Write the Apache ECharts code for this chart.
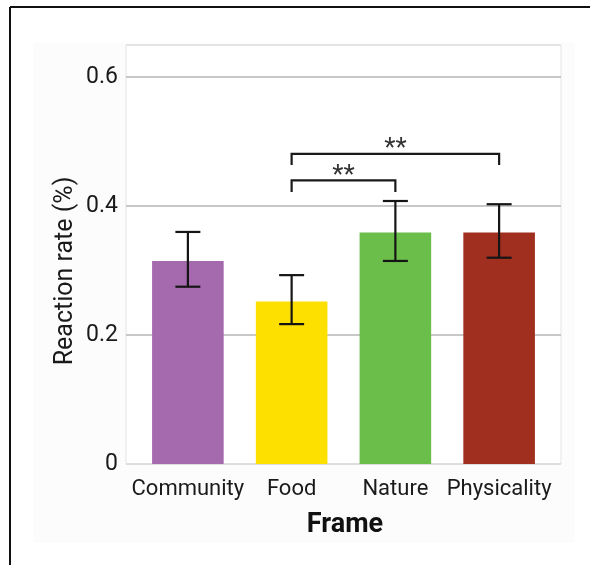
<!DOCTYPE html>
<html>
<head>
<meta charset="utf-8">
<script src="https://cdn.jsdelivr.net/npm/echarts@6/dist/echarts.min.js"></script>
<style>
  html, body { margin: 0; padding: 0; background: #ffffff; }
  #chart { width: 590px; height: 565px; }
</style>
</head>
<body>
<div id="chart"></div>
<script>
// Reaction rate by frame, with error bars and significance brackets
const categories = ['Community', 'Food', 'Nature', 'Physicality'];
const meanRate = [0.315, 0.252, 0.359, 0.359];
const errLow = [0.275, 0.217, 0.315, 0.320];
const errHigh = [0.360, 0.293, 0.408, 0.403];
const barColors = ['#a56aae', '#fde000', '#6bbe4a', '#a12f20'];

// significance brackets: from category, to category, level, leg length, label
const bracketFrom = [1, 1];
const bracketTo = [2, 3];
const bracketLevel = [0.440, 0.481];
const bracketLeg = [0.018, 0.017];
const bracketLabel = ['**', '**'];

const yMin = 0, yMax = 0.65, yStep = 0.2;
const FONT = 'Roboto';

const chart = echarts.init(document.getElementById('chart'), null, { renderer: 'canvas' });

const gridTop = 45, gridBottom = 101;

const option = {
  animation: false,
  backgroundColor: '#ffffff',
  graphic: [
    { type: 'rect', z: -10, shape: { x: 33, y: 43, width: 542, height: 500 }, style: { fill: '#fcfcfc' } },
    { type: 'line', shape: { x1: 10, y1: 7, x2: 10, y2: 565 }, style: { stroke: '#111', lineWidth: 2 } },
    { type: 'line', shape: { x1: 10, y1: 7, x2: 590, y2: 7 }, style: { stroke: '#111', lineWidth: 2 } },
    {
      type: 'text', x: 66, y: 271, rotation: Math.PI / 2,
      style: { text: 'Reaction rate (%)', font: '400 25px Roboto', fill: '#1a1a1a', align: 'center', verticalAlign: 'middle' }
    },
    {
      type: 'text', x: 345, y: 525,
      style: { text: 'Frame', font: '700 27px Roboto', fill: '#111', align: 'center', verticalAlign: 'middle' }
    }
  ],
  grid: [
    { left: 126, right: 29, top: gridTop, bottom: gridBottom, show: true, backgroundColor: '#ffffff', borderColor: '#e4e4e4', borderWidth: 1 },
    { left: 136, right: 39, top: gridTop, bottom: gridBottom }
  ],
  xAxis: [
    { gridIndex: 0, type: 'value', min: 0, max: 1, show: false },
    {
      gridIndex: 1, type: 'category', data: categories,
      axisLine: { show: false }, axisTick: { show: false },
      axisLabel: { fontFamily: FONT, fontSize: 22, color: '#1a1a1a', margin: 14, interval: 0 }
    }
  ],
  yAxis: [
    {
      gridIndex: 0, type: 'value', min: yMin, max: yMax, interval: yStep,
      axisLine: { show: false }, axisTick: { show: false },
      axisLabel: {
        fontFamily: FONT, fontSize: 23, color: '#1a1a1a', margin: 8, showMaxLabel: false,
        formatter: v => (v === 0 ? '0' : v.toFixed(1))
      },
      splitLine: { show: true, lineStyle: { color: ['#dedede', '#c8c8c8', '#c8c8c8', '#c8c8c8', '#e4e4e4'], width: 2 } }
    },
    { gridIndex: 1, type: 'value', min: yMin, max: yMax, interval: yStep, show: false, splitLine: { show: false } }
  ],
  series: [
    {
      type: 'bar', xAxisIndex: 1, yAxisIndex: 1,
      barCategoryGap: '31%',
      data: meanRate.map((v, i) => ({ value: v, itemStyle: { color: barColors[i] } })),
      z: 2
    },
    {
      type: 'custom', xAxisIndex: 1, yAxisIndex: 1, z: 5,
      data: categories.map((c, i) => [i, errLow[i], errHigh[i]]),
      renderItem: function (params, api) {
        const lo = api.coord([api.value(0), api.value(1)]);
        const hi = api.coord([api.value(0), api.value(2)]);
        const half = 12.5;
        const st = { stroke: '#151515', lineWidth: 2.2, fill: null };
        return {
          type: 'group',
          children: [
            { type: 'line', shape: { x1: hi[0], y1: hi[1], x2: lo[0], y2: lo[1] }, style: st },
            { type: 'line', shape: { x1: hi[0] - half, y1: hi[1], x2: hi[0] + half, y2: hi[1] }, style: st },
            { type: 'line', shape: { x1: lo[0] - half, y1: lo[1], x2: lo[0] + half, y2: lo[1] }, style: st }
          ]
        };
      }
    },
    {
      type: 'custom', xAxisIndex: 1, yAxisIndex: 1, z: 5,
      data: bracketFrom.map((f, i) => [f, bracketTo[i], bracketLevel[i], bracketLeg[i], i]),
      renderItem: function (params, api) {
        const f = api.value(0), t = api.value(1), lv = api.value(2), leg = api.value(3);
        const idx = api.value(4);
        const a = api.coord([f, lv]);
        const b = api.coord([t, lv]);
        const a2 = api.coord([f, lv - leg]);
        const b2 = api.coord([t, lv - leg]);
        return {
          type: 'group',
          children: [
            {
              type: 'polyline',
              shape: { points: [[a2[0], a2[1]], [a[0], a[1]], [b[0], b[1]], [b2[0], b2[1]]] },
              style: { stroke: '#1a1a1a', lineWidth: 2.2, fill: null }
            },
            {
              type: 'text', x: (a[0] + b[0]) / 2, y: a[1] + 9,
              style: { text: bracketLabel[idx], font: '400 26px Roboto', fill: '#333', align: 'center', verticalAlign: 'bottom' }
            }
          ]
        };
      }
    }
  ]
};

chart.setOption(option);
</script>
</body>
</html>
